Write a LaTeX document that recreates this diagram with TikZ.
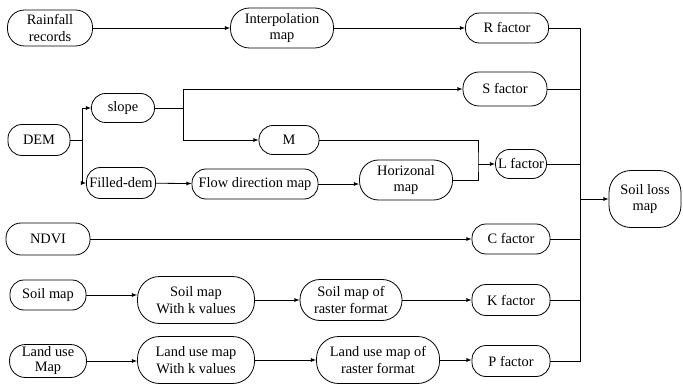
\documentclass[tikz,border=0pt]{standalone}
\usepackage{fontspec}
\setmainfont{Liberation Serif}
\usetikzlibrary{arrows}

\begin{document}
\begin{tikzpicture}[x=1pt,y=-1pt]
      \useasboundingbox (0,0) rectangle (683,385);
      \begin{scope}[every node/.style={rectangle, rounded corners=14pt, draw, inner sep=1pt, line width=0.8pt, align=center, font=\fontsize{14.4}{16.5}\selectfont}]
        % rainfall row
        \node [minimum width=85, minimum height=36, rounded corners=17pt] (rain) at (50,28) {Rainfall\\records};
        \node [minimum width=103, minimum height=40, rounded corners=19pt] (interp) at (282,28) {Interpolation\\map};
        \node [minimum width=83, minimum height=30] (R) at (507,28) {R factor};
        % dem part
        \node [minimum width=84, minimum height=34, rounded corners=16pt] (S) at (505,89) {S factor};
        \node [minimum width=62, minimum height=31] (dem) at (39,140) {DEM};
        \node [minimum width=63, minimum height=29] (slope) at (123,108) {slope};
        \node [minimum width=60, minimum height=29] (M) at (289,140) {M};
        \node [minimum width=69, minimum height=31, inner sep=0pt] (filled) at (121,183) {Filled-dem};
        \node [minimum width=126, minimum height=30] (flow) at (255,184) {Flow direction map};
        \node [minimum width=93, minimum height=40, rounded corners=19pt] (horiz) at (406,180) {Horizonal\\map};
        \node [minimum width=51, minimum height=29, inner sep=0pt] (L) at (521,164) {L factor};
        \node [minimum width=72, minimum height=57, rounded corners=22pt] (loss) at (645,199) {Soil loss\\map};
        % ndvi
        \node [minimum width=84, minimum height=32, rounded corners=15pt] (ndvi) at (48,239) {NDVI};
        \node [minimum width=78, minimum height=30] (C) at (511,239) {C factor};
        % soil
        \node [minimum width=76, minimum height=30] (soil) at (48,295) {Soil map};
        \node [minimum width=117, minimum height=47, rounded corners=22pt] (soilk) at (196,300) {Soil map\\With k values};
        \node [minimum width=102, minimum height=41, rounded corners=20pt] (soilr) at (351,300) {Soil map of\\raster format};
        \node [minimum width=78, minimum height=31] (K) at (511,300) {K factor};
        % land use
        \node [minimum width=77, minimum height=33, rounded corners=16pt, inner sep=0pt, font=\fontsize{14.4}{15}\selectfont] (land) at (48,361) {Land use\\Map};
        \node [minimum width=117, minimum height=47, rounded corners=22pt] (landk) at (196,360) {Land use map\\With k values};
        \node [minimum width=123, minimum height=47, rounded corners=22pt] (landr) at (378,360) {Land use map of\\raster format};
        \node [minimum width=78, minimum height=31] (P) at (511,361) {P factor};
      \end{scope}

      \coordinate (demj) at (82,140);
      \coordinate (slopej) at (183,108);
      \coordinate (Lj) at (478,164);
      \coordinate (bus) at (580,199);

      \begin{scope}[->,>=latex, line width=0.8pt]
        \draw (rain) to (interp);
        \draw (interp) to (R);
        \draw (dem.east) -- (demj) |- (slope.west);
        \draw (demj) |- (filled.west);
        \draw (slope.east) -- (slopej) |- (S.west);
        \draw (slopej) |- (M.west);
        \draw (filled) to (flow);
        \draw (flow) to (horiz.west |- flow);
        \draw (Lj) to (L.west);
        \draw (ndvi) to (C);
        \draw (soil.east) to (soilk.west |- soil);
        \draw (soilk) to (soilr);
        \draw (soilr) to (K.west |- soilr);
        \draw (land) to (landk.west |- land);
        \draw (landk) to (landr);
        \draw (landr) to (P.west |- landr);
        \draw (bus) to (loss);
      \end{scope}

      \begin{scope}[line width=0.8pt]
        \draw (M.east) -| (Lj) |- (horiz.east);
        \draw (R.east) -| (bus |- P.east) -- (P.east);
        \draw (S.east) -- (bus |- S.east);
        \draw (L.east) -- (bus |- L.east);
        \draw (C.east) -- (bus |- C.east);
        \draw (K.east) -- (bus |- K.east);
      \end{scope}
   \end{tikzpicture}
\end{document}
